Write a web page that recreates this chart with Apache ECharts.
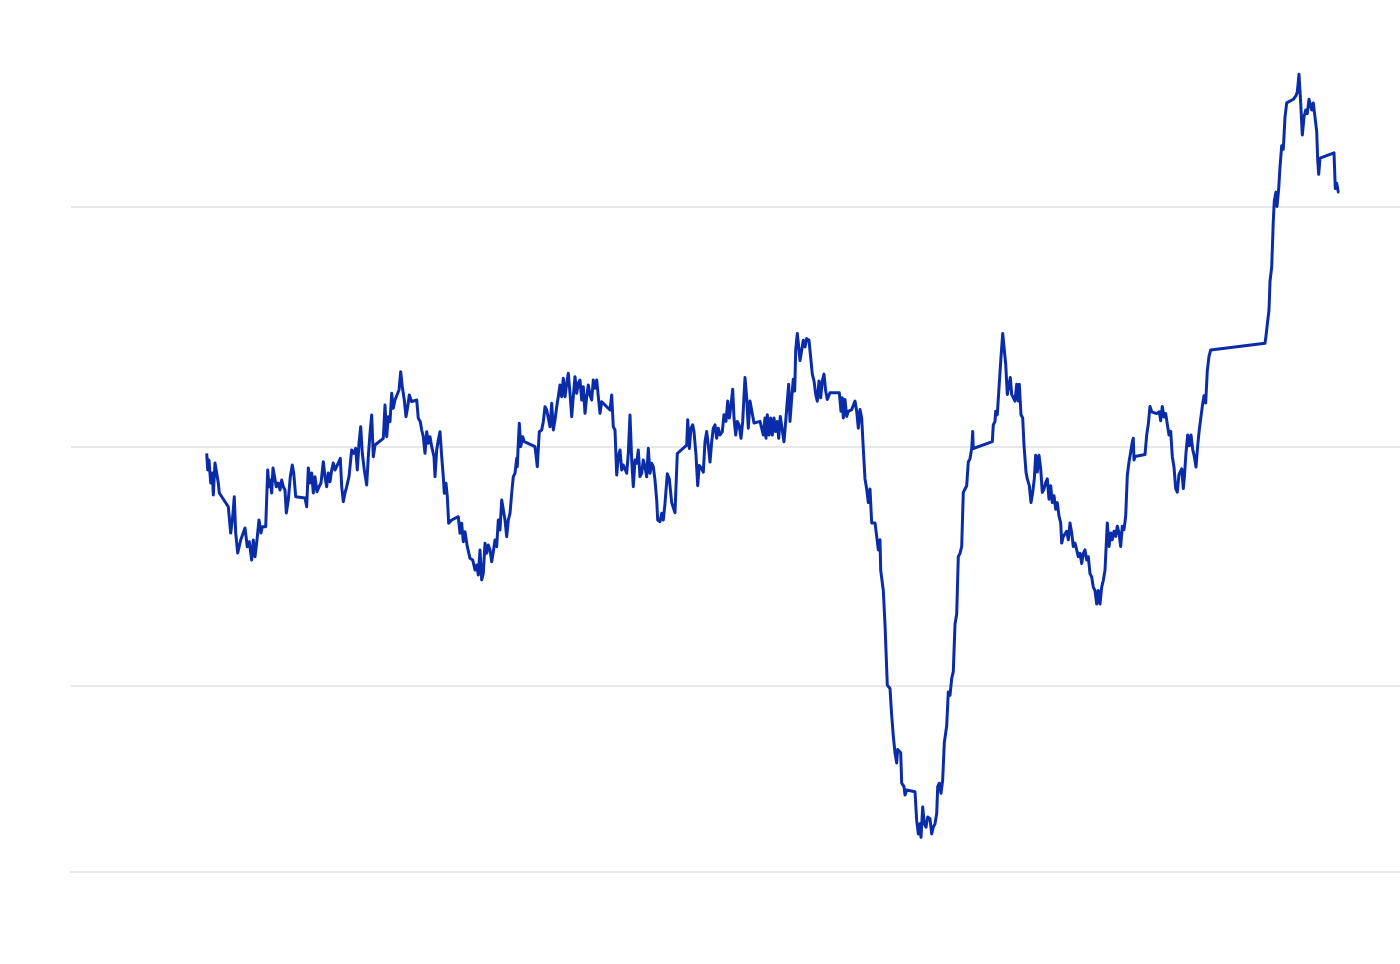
<!DOCTYPE html>
<html>
<head>
<meta charset="utf-8">
<script src="https://cdn.jsdelivr.net/npm/echarts@6/dist/echarts.min.js"></script>
<style>
html,body{margin:0;padding:0;background:#ffffff;}
#chart{width:1400px;height:964px;}
</style>
</head>
<body>
<div id="chart"></div>
<script>
// Observations: [time index, level]
const obs = [
[135.7,232.7],[136.7,216],[138,226],[139.7,203],[141.3,213],[142.3,191],[144,223],[145.7,224.3],[147.3,203],[148.3,193],
[157.3,179.3],[159.7,153],[161.7,169],[163.3,189.3],[164.7,153],[166.7,133],[168.3,133],[169.7,146],[171.3,144.3],[174,158],
[176.3,139.3],[178.3,144.3],[180.7,126],[182.3,146],[184,129.3],[186,146],[188,166],[190,153],[191.3,159.3],[194.7,159.3],
[196.7,216],[198,199.3],[199.3,206],[200.7,193],[202,218],[204,216],[205.3,199.3],[207.3,203],[209,196],[210.7,206],
[212.3,199.3],[214,196],[215.3,173],[217.3,186],[219.3,209.3],[221.3,221],[222.7,213],[224.7,189.3],[234,188],[235.7,179.3],
[237.3,218],[239,203],[240.7,213],[242.3,193],[244,209.3],[246,194.3],[248,199.3],[250,203],[252.3,224.3],[254,209.3],
[255.7,199.3],[257.3,213],[259,204.3],[260.7,216],[262.3,223],[264,216],[267.3,223],[269.3,227.7],[270.7,199.3],[272.3,184.3],
[274,193],[275.7,199.3],[278,209.3],[280.7,236],[282.7,232.7],[284.7,237.7],[286.3,216],[288,242.7],[289.7,259.3],[291.3,232.7],
[293.3,216],[295.7,201],[297.3,229.3],[299,252.7],[300.7,271],[302.3,229.3],[304,241],[312.3,247.7],[314,281],[315.7,249.3],
[317.3,269.3],[319,264.3],[320.7,292.7],[322.3,277.7],[324,286],[326,286],[328,296],[329.7,314.3],[331.3,299.3],[333.3,286],
[335,269.3],[336.7,279.3],[338.3,291],[340.7,284.3],[345.7,286],[347.3,267.7],[349.3,264.3],[350.7,256],[352.3,249.3],[354,232.7],
[355.7,254.3],[357.3,242.7],[359,249.3],[360.7,239.3],[363,229.3],[364,209.3],[365.7,236],[367.3,246],[369,254.3],[370.7,229.3],
[372.3,209.3],[373.3,192.7],[375,202.7],[376.3,189.3],[377.7,162.7],[380.7,166],[387.3,169.3],[389,152.7],[390.7,162.7],[392.3,144.3],
[394,154.3],[396.3,139.3],[399,127.7],[401.7,126],[404,116],[405.7,121],[407.3,111],[409,136],[410.7,106],[412.3,112.7],
[414,142.7],[415.7,132.7],[417.3,141],[419,136],[420.7,124.3],[422.3,134.3],[424,146],[425.7,139.3],[427.3,166],[429,156],
[430.7,186],[432.3,187.7],[434,166],[435.7,149.3],[437.3,166],[439,172.7],[440.7,192.7],[442.3,209.3],[444,212.7],[445.7,227.7],
[446.3,219.3],[447.3,242.7],[448.3,262.7],[449.7,239.3],[451.7,249.3],[453.3,244.3],[464,239.3],[466.3,219.3],[468.3,254.3],[470.7,256],
[472.3,264.3],[474,279.3],[475.7,276],[477.3,276],[479,259.3],[480.7,282.7],[482.3,256],[484,266],[485.7,279.3],[487.3,289.3],
[489,301],[490.7,289.3],[492.3,307.7],[494,289.3],[495.7,302.7],[497.3,312.7],[499,292.7],[500.7,269.3],[502.3,289.3],[504,309.3],
[505.7,292.7],[507.3,302.7],[509,306],[510.7,286],[512.3,299.3],[514,272.7],[515.7,289.3],[517.3,301],[519,291],[520.7,286],
[522.3,306],[524,297.7],[525.7,306],[527.3,289.3],[529,272.7],[530.7,284.3],[539,276],[540.7,291],[542.3,259.3],[544,256],
[545.7,211],[547.3,229.3],[549,236],[550.7,216],[552.3,221],[554,219.3],[555.7,212.7],[557.3,232.7],[559,271],[560.7,226],
[562.3,199.3],[564,226],[565.7,222.7],[567.3,236],[569,209.3],[570.7,212.7],[572.3,226],[574,219.3],[575.7,209.3],[577.3,237.7],
[579,212.7],[580.7,222.7],[582.3,219.3],[584,206],[585.7,186],[586.7,166],[589,164.3],[590.7,172.7],[592.3,166],[594,182.7],
[596.3,212.2],[598.3,207.1],[600.7,183.4],[604,173.3],[606.3,232.5],[615.7,240.9],[616.7,266.3],[618.3,237.5],[620,257.8],[621.7,261.2],
[623,254.4],[625,230.8],[626.7,200.3],[628.3,220.6],[630.7,217.2],[632.3,213.9],[634,244.3],[635.7,254.4],[637.3,240.9],[639,224],
[640.7,244.3],[642.3,257.8],[644,261.2],[645.7,247.7],[647.3,257.8],[649,251],[651.3,254.4],[653,271.3],[655,264.6],[656.7,284.9],
[658.3,268],[659.7,278.1],[661.7,296.7],[663,268],[664.7,251],[666.3,264.6],[668,261.2],[670,247.7],[671.7,264.6],[674,308.5],
[675.7,288.2],[677.3,257.8],[679,284.9],[680.7,286.5],[683,262.9],[689,264.6],[690.7,264.6],[692.3,251],[694,268],[695,247.7],
[696.3,271.3],[698,251],[699.7,268],[701.3,251],[703,268],[704.7,254.4],[706.3,264.6],[707.7,247.7],[709.3,269.6],[711,257.8],
[713,244.3],[714.7,264.6],[716.3,284.9],[717.7,301.8],[719,264.6],[720.7,288.2],[722.3,306.8],[723.7,295],[724.7,335.6],[726.3,352.5],
[727.7,339],[729,325.4],[730.7,335.6],[732.3,345.7],[734,339],[735.7,347.4],[738,345.7],[739.7,347.4],[741.3,311.9],[743,305.1],
[744.7,291.6],[746.3,284.9],[748,305.1],[749.7,288.2],[751.3,305.1],[753,311.9],[754.7,295],[756.3,286.5],[759,293.3],[768.3,293.3],
[770,274.7],[771.3,288.2],[772.3,268],[774,286.5],[775.7,269.6],[777.3,274.7],[779,273],[780.7,276.4],[784,284.9],[785.7,274.7],
[787.3,257.8],[789,276.4],[790.7,268],[792.3,237.5],[794,207.1],[795.7,197],[797.3,183.4],[799,197],[800.7,163.1],[804,163.1],
[805.7,149.6],[807.3,136.1],[809,146.2],[809.7,115.8],[812.3,95.5],[814,61.7],[816.3,0.9],[819,-2.5],[820.7,-29.6],[822.3,-49.9],
[824,-66.8],[825.7,-76.9],[826.7,-63.4],[829.7,-66.8],[830.7,-97.2],[833,-100.6],[834,-109],[835.7,-104],[844,-105.7],[845.7,-134.4],
[847.3,-147.9],[849,-137.8],[850,-151.3],[851.7,-120.9],[853.3,-137.8],[855,-141.2],[856.7,-131],[859,-132.7],[860.7,-147.9],[862.3,-141.2],
[864,-137.8],[865.7,-127.6],[866.7,-100.6],[868.3,-97.2],[870,-107.3],[871.7,-93.8],[873.3,-56.6],[875.7,-39.7],[877.3,-5.9],[879,-9.3],
[880.7,7.6],[882.3,14.4],[884,61.7],[885.7,71.9],[887.3,129.3],[889,132.7],[890.7,139.5],[892.3,193.6],[894,197],[895.7,200.3],
[897.3,224],[899,227.4],[900.7,237.5],[901.7,254.4],[902.3,237.5],[921.3,244.3],[922.3,261.2],[924,264.6],[924.7,274.7],[926.3,271.3],
[928,298.4],[930,328.8],[931.7,352.5],[933,339],[934.7,322],[936.3,291.6],[938,293.3],[939.3,308.5],[940.7,291.6],[942.3,293.3],
[944,284.9],[945.7,301.8],[947.3,284.9],[948.3,301.8],[950,271.3],[951.7,268],[953,240.9],[955,213.9],[956.3,207.1],[958.3,200.3],
[960,183.4],[961.7,193.6],[963.3,207.1],[964.7,230.8],[966.3,213.9],[968,230.8],[969.7,217.2],[971.3,193.6],[973,197],[974.7,203.7],
[976.3,207.1],[978,186.8],[979.7,200.3],[981.3,183.4],[983,190.2],[984.7,176.7],[986.3,183.4],[988,169.9],[989.7,163.1],[990.7,142.9],
[992.3,149.6],[995.7,154.7],[997.3,146.2],[999,163.1],[1000.7,153],[1002.3,139.5],[1004,142.9],[1005.7,136.1],[1007.3,129.3],[1009,132.7],
[1010.7,122.6],[1012.3,132.7],[1014,136.1],[1015.7,126],[1017.3,129.3],[1019,112.4],[1020.7,109],[1022.3,98.9],[1024,95.5],[1025.7,82],
[1027.3,95.5],[1029,82],[1030.7,98.9],[1032.3,105.7],[1034,115.8],[1035,136.1],[1036.3,163.1],[1038,139.5],[1039.7,153],[1041.3,146.2],
[1043,154.7],[1044.7,149.6],[1046.3,159.8],[1048,153],[1049.7,139.5],[1051.3,159.8],[1053,156.4],[1054.7,169.9],[1056.3,210.5],[1058,224],
[1059.7,234.1],[1061.3,244.3],[1062.3,247.7],[1063,226],[1064,229.6],[1074,231.4],[1075.7,251],[1077.3,261.7],[1079,279.6],[1080.7,274.2],
[1085.7,272.4],[1088.3,274.2],[1089.7,265.3],[1091.3,279.6],[1093,268.9],[1094.7,272.4],[1096.3,261.7],[1098,251],[1099.7,254.6],[1101.3,229.6],
[1103,218.9],[1104.7,197.4],[1106.3,193.9],[1108,211.7],[1110.7,217.1],[1112.3,197.4],[1113.3,208.1],[1115,233.1],[1116.7,251],[1118.3,240.3],
[1120,251],[1121.7,236.7],[1123.3,229.6],[1125,218.9],[1126.7,240.3],[1128.3,256.4],[1129.7,254.6],[1131.3,279.6],[1133,290.3],[1134.7,283.1],
[1136.3,315.3],[1138,329.6],[1139.7,336],[1194,342.8],[1194.7,347.4],[1196.3,361.7],[1198,376],[1199,404.6],[1200.7,418.9],[1202.3,465.3],
[1203.3,484.9],[1205,493.9],[1206,479.6],[1207.7,497.4],[1209,518.9],[1210.7,540.3],[1212.3,536.7],[1214,568.9],[1215.7,583.1],[1222.3,586.7],
[1225,590.3],[1226.3,593.9],[1228,611.7],[1229.7,583.1],[1231.3,551],[1233,568.9],[1234.7,576],[1236.3,572.4],[1238,586.7],[1239.7,586.7],
[1240.7,576],[1242.3,583.1],[1244,568.9],[1245.7,554.6],[1246.7,526],[1247.7,511.7],[1249,527.8],[1263,533.1],[1264.3,497.4],[1265.7,502.8],
[1267.3,493.9],[1268.3,493.9]
];

// Reference levels drawn as horizontal gridlines
const gridLevels = [0, 239.5, 479];
// Axis extents
const timeRange = [0, 1329];
const levelRange = [-186, 646];

const chart = echarts.init(document.getElementById('chart'), null, {renderer: 'canvas'});
chart.setOption({
  animation: false,
  backgroundColor: '#ffffff',
  grid: {left: 71, right: 0, top: 40, bottom: 92, containLabel: false},
  xAxis: {
    type: 'value',
    min: timeRange[0], max: timeRange[1],
    axisLine: {show: true, onZero: false, lineStyle: {color: '#e8e8e8', width: 2}},
    axisTick: {show: false},
    axisLabel: {show: false},
    splitLine: {show: false}
  },
  yAxis: {
    type: 'value',
    min: levelRange[0], max: levelRange[1],
    axisLine: {show: false},
    axisTick: {show: false},
    axisLabel: {show: false},
    splitLine: {show: false}
  },
  series: [{
    type: 'line',
    data: obs,
    showSymbol: false,
    symbol: 'none',
    smooth: false,
    z: 3,
    lineStyle: {color: '#0a2ca8', width: 3, join: 'round'},
    markLine: {
      silent: true,
      z: 1,
      symbol: ['none', 'none'],
      label: {show: false},
      lineStyle: {color: '#e8e8e8', width: 2, type: 'solid'},
      emphasis: {disabled: true},
      data: gridLevels.map(v => ({yAxis: v}))
    }
  }]
});
</script>
</body>
</html>
